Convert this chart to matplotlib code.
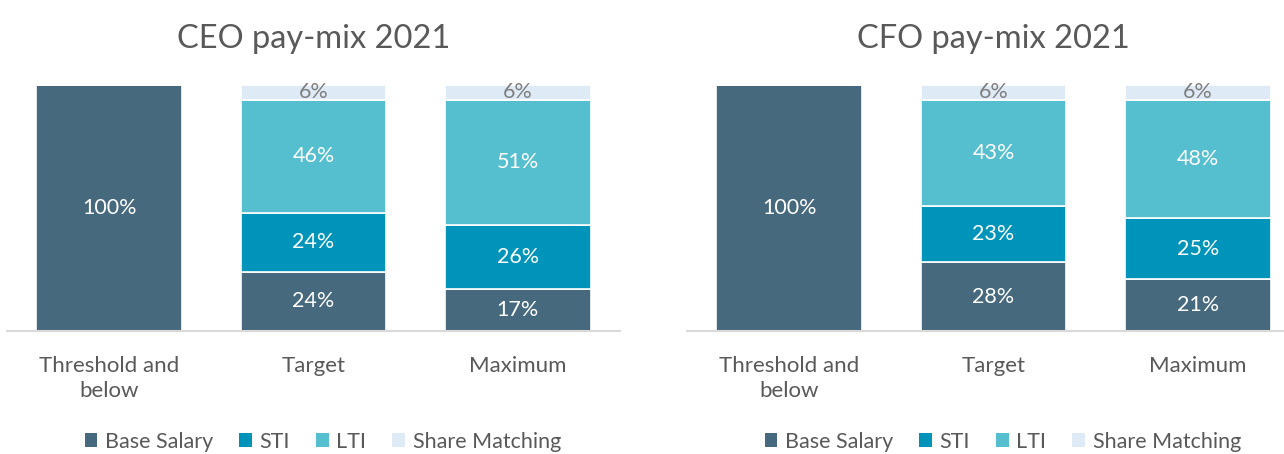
import matplotlib
matplotlib.use("Agg")
import matplotlib.pyplot as plt
from matplotlib.patches import Patch

plt.rcParams['font.family'] = ['Lato', 'DejaVu Sans']

categories = ["Threshold and\nbelow", "Target", "Maximum"]
series = ["Base Salary", "STI", "LTI", "Share Matching"]
colors = ["#46697D", "#0094BA", "#55BECF", "#DEEAF6"]
label_colors = ["white", "white", "white", "#808080"]

ceo = {
    "Base Salary": [100, 24, 17],
    "STI": [0, 24, 26],
    "LTI": [0, 46, 51],
    "Share Matching": [0, 6, 6],
}
cfo = {
    "Base Salary": [100, 28, 21],
    "STI": [0, 23, 25],
    "LTI": [0, 43, 48],
    "Share Matching": [0, 6, 6],
}
titles = ["CEO pay-mix 2021", "CFO pay-mix 2021"]

W, H = 1284, 454
fig = plt.figure(figsize=(W / 100, H / 100), dpi=100)

axes_px = [(7, 613), (687, 613)]
bottom = (H - 331) / H
height = 246 / H
text_c = "#595959"

for (x0, w), data, title in zip(axes_px, [ceo, cfo], titles):
    ax = fig.add_axes([x0 / W, bottom, w / W, height])
    x = list(range(len(categories)))
    base = [0] * len(categories)
    for s, c, lc in zip(series, colors, label_colors):
        vals = data[s]
        ax.bar(x, vals, bottom=base, width=0.714, color=c,
               edgecolor="white", linewidth=1.2, label=s)
        for xi, v, b in zip(x, vals, base):
            if v > 0:
                ax.text(xi, b + v / 2, f"{v}%", ha="center", va="center",
                        color=lc, fontsize=15.5)
        base = [b + v for b, v in zip(base, vals)]
    ax.set_xlim(-0.5, 2.5)
    ax.set_ylim(0, 100)
    ax.set_xticks(x)
    ax.set_xticklabels(categories, fontsize=16, color=text_c, linespacing=1.3)
    ax.tick_params(axis="x", length=0, pad=18)
    ax.set_yticks([])
    for sp in ["top", "right", "left"]:
        ax.spines[sp].set_visible(False)
    ax.spines["bottom"].set_color("#D9D9D9")
    ax.spines["bottom"].set_linewidth(1.5)
    ax.set_title(title, fontsize=23.5, color=text_c, pad=27)
    handles = [Patch(facecolor=c, edgecolor="none") for c in colors]
    leg = ax.legend(handles, series, loc="center", bbox_to_anchor=(0.515, -0.45),
                    ncol=4, frameon=False, fontsize=15.5, handlelength=0.6,
                    handleheight=0.6, handletextpad=0.35, columnspacing=1.2)
    for t in leg.get_texts():
        t.set_color(text_c)

fig.savefig("out.png", dpi=100)
